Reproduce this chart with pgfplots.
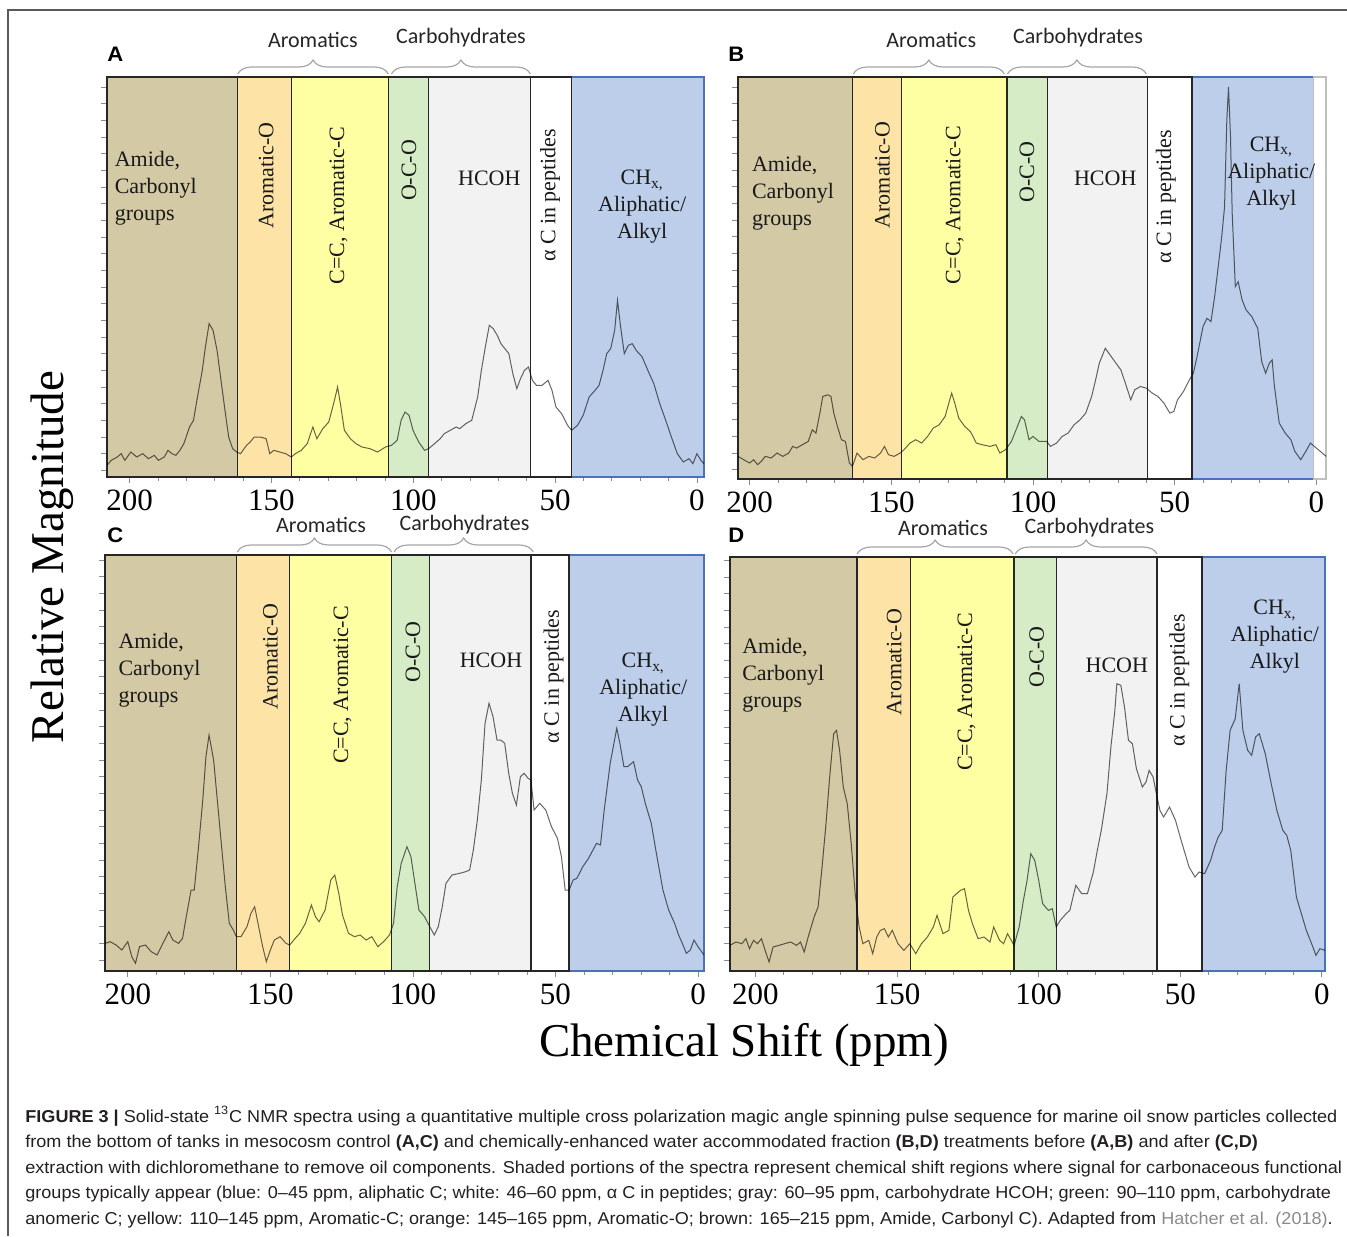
\documentclass[border=0pt]{standalone}
\usepackage{fontspec}
\setmainfont{Liberation Serif}
\newfontfamily\capfont[FakeStretch=1.05]{Liberation Sans}
\newfontfamily\calfont{Carlito}
\usepackage{pgfplots}
\pgfplotsset{compat=1.18}
\usetikzlibrary{decorations.pathreplacing}

\definecolor{cBrown}{HTML}{D3C9A5}
\definecolor{cOrange}{HTML}{FDE4A6}
\definecolor{cYellow}{HTML}{FEFEA2}
\definecolor{cGreen}{HTML}{D6ECC6}
\definecolor{cGray}{HTML}{F2F2F2}
\definecolor{cBlue}{HTML}{BDCEEA}
\definecolor{cBlueEdge}{HTML}{4A72B8}
\definecolor{capText}{HTML}{231F20}
\definecolor{linkGray}{HTML}{8A8A8A}

% one shaded chemical-shift band: fill, edge, x from, x to, y low, y high
\newcommand{\band}[6]{%
  \addplot[fill=#1, draw=#2, line width=0.7pt] coordinates {(#3,#5) (#4,#5) (#4,#6) (#3,#6)} --cycle;}

\pgfplotsset{
  nmr/.style={
    scale only axis, x dir=reverse, enlargelimits=false, clip=false,
    anchor=south west,
    axis line style={draw=black!30},
    xtick={0,50,100,150,200}, minor xtick={10,20,...,190},
    ytick distance=50, yticklabels={},
    xtick pos=left, ytick pos=left, tick align=outside,
    major tick length=3pt, minor tick length=2pt,
    tick style={draw=black!45, line width=0.4pt},
    xticklabel style={font=\fontsize{15.5}{16}\selectfont, text=black},
    /pgf/number format/assume math mode=true,
  },
  spec/.style={no marks, line width=0.5pt, draw=black, draw opacity=0.6},
}

\begin{document}
\begin{tikzpicture}[x=0.5pt, y=-0.5pt,
  lab/.style={font=\fontsize{11}{13.5}\selectfont, inner sep=0pt, text=black!90},
  grp/.style={font=\calfont\fontsize{11}{13}\selectfont, inner sep=0pt, text=black!85},
  brc/.style={decorate, decoration={brace, amplitude=7pt, raise=1.5pt}, draw=black!35, line width=0.6pt},
  pl/.style={anchor=base west, inner sep=0pt, font=\capfont\bfseries\fontsize{10.5}{12}\selectfont}]
\path[use as bounding box] (0,0) rectangle (1347,1236);
\draw[black!65, line width=0.7pt] (8,1236) -- (8,10) -- (1347,10);

% ---------------- A ----------------
\begin{axis}[nmr, at={(53.5pt,-238.5pt)}, width=298.5pt, height=200pt,
  xmin=-2.5, xmax=208, ymin=30, ymax=1230]
\band{cBrown}{black!85}{208}{161.9}{30}{1230}
\band{cOrange}{black!85}{161.9}{143.0}{30}{1230}
\band{cYellow}{black!85}{143.0}{108.8}{30}{1230}
\band{cGreen}{black!85}{108.8}{94.6}{30}{1230}
\band{cGray}{black!85}{94.6}{58.7}{30}{1230}
\band{cBlue}{cBlueEdge}{44.2}{-2.5}{30}{1230}
\band{white}{black!85}{58.7}{44.2}{30}{1230}
\addplot[spec] coordinates {
(208.0,65) (206.5,80) (204.4,90) (203.0,100) (201.7,80) (199.6,105) (197.5,90) (195.4,100)
(193.4,85) (191.3,95) (189.9,80) (187.8,90) (186.5,110) (185.1,100) (183.7,95) (182.3,110)
(180.9,130) (178.9,180) (177.5,200) (176.1,270) (174.4,350) (173.3,420) (172.0,490) (170.6,470)
(169.2,410) (167.8,320) (166.4,230) (165.1,150) (163.7,115) (162.3,105) (160.9,100) (158.8,125)
(157.5,135) (156.1,150) (154.0,150) (151.9,145) (150.6,100) (149.2,110) (147.1,105) (145.0,100)
(143.0,90) (141.6,100) (139.5,110) (137.4,130) (135.4,180) (134.0,145) (131.9,175) (129.8,195)
(127.8,260) (126.7,300) (125.7,250) (124.3,170) (122.2,145) (120.2,130) (118.1,120) (115.3,115)
(112.6,105) (109.8,120) (107.7,125) (105.7,140) (104.3,200) (102.9,225) (101.5,215) (100.1,170)
(98.1,135) (96.0,110) (94.6,115) (92.5,130) (90.5,145) (89.1,160) (87.0,170) (84.9,180)
(83.6,175) (81.5,190) (79.4,200) (77.3,270) (76.0,350) (74.6,420) (73.2,485) (71.8,475)
(70.4,455) (69.1,430) (67.7,415) (66.3,400) (64.9,340) (63.5,295) (62.2,325) (60.8,350)
(59.4,360) (58.0,320) (56.6,305) (54.6,305) (52.5,320) (51.1,290) (49.7,240) (47.7,220)
(45.6,185) (44.2,170) (42.1,185) (40.1,215) (38.0,270) (35.9,290) (34.5,305) (33.1,350)
(31.8,400) (30.4,415) (29.0,470) (28.0,560) (26.9,480) (25.6,400) (24.2,425) (22.8,430)
(21.4,410) (19.3,390) (17.3,350) (15.2,310) (13.1,250) (11.0,200) (9.0,150) (6.9,100)
(4.8,75) (2.8,85) (1.4,70) (0.0,100) (-1.4,80) (-2.5,70)};
\node[lab, anchor=west, align=left] at (axis cs:205.4,895) {Amide,\\Carbonyl\\groups};
\node[lab, rotate=90] at (axis cs:151.9,935) {Aromatic-O};
\node[lab, rotate=90] at (axis cs:126.4,845) {C=C, Aromatic-C};
\node[lab, rotate=90] at (axis cs:101.5,950) {O-C-O};
\node[lab] at (axis cs:73.2,925) {HCOH};
\node[lab, rotate=90] at (axis cs:51.8,875) {α C in peptides};
\node[lab, align=center] at (axis cs:19.3,840) {CH\textsubscript{x,}\\Aliphatic/\\Alkyl};
\draw[brc] (axis cs:161.9,1230) -- (axis cs:108.8,1230);
\draw[brc] (axis cs:107.7,1230) -- (axis cs:58.7,1230);
\node[grp, yshift=18.5pt] at (axis cs:135.4,1230) {Aromatics};
\node[grp, yshift=19.5pt] at (axis cs:83.2,1230) {Carbohydrates};
\end{axis}

% ---------------- B ----------------
\begin{axis}[nmr, at={(369pt,-239.5pt)}, width=294pt, height=201pt,
  xmin=-3.4, xmax=204.1, ymin=22, ymax=1230]
\band{cBrown}{black!85}{204.1}{163.7}{22}{1230}
\band{cOrange}{black!85}{163.7}{146.5}{22}{1230}
\band{cYellow}{black!85}{146.5}{109.2}{22}{1230}
\band{cGreen}{black!85}{109.2}{94.9}{22}{1230}
\band{cGray}{black!85}{94.9}{59.6}{22}{1230}
\band{cBlue}{cBlueEdge}{43.9}{1.0}{22}{1230}
\band{white}{black!85}{59.6}{43.9}{22}{1230}
\band{white}{black!25}{1.0}{-3.4}{22}{1230}
\addplot[spec] coordinates {
(204.1,90) (202.1,80) (200.0,70) (198.6,80) (197.2,65) (195.9,75) (194.5,90) (192.4,85)
(190.3,100) (188.3,90) (186.2,100) (184.8,120) (183.4,115) (181.4,125) (179.3,135) (177.9,170)
(176.6,160) (175.2,220) (174.2,270) (172.4,275) (171.3,270) (170.3,220) (169.0,180) (167.6,140)
(166.2,135) (164.8,70) (163.7,60) (162.1,100) (160.0,80) (157.9,90) (155.9,85) (153.8,100)
(152.4,120) (151.0,95) (149.0,90) (146.9,100) (145.5,110) (143.4,130) (141.4,140) (139.3,130)
(137.2,150) (135.2,175) (133.1,185) (131.0,210) (129.7,250) (128.7,280) (127.6,250) (126.2,205)
(124.1,180) (122.1,165) (120.0,130) (117.9,125) (115.2,120) (113.1,125) (111.7,100) (109.7,110)
(107.6,135) (105.5,180) (104.1,210) (103.0,200) (101.4,140) (100.0,150) (97.9,135) (95.2,135)
(93.8,120) (91.7,130) (89.7,150) (87.6,160) (85.5,185) (83.4,200) (81.4,220) (79.3,270)
(77.9,320) (76.6,370) (74.5,415) (72.4,390) (70.3,365) (69.0,350) (67.6,315) (65.5,260)
(64.1,290) (62.1,300) (60.0,295) (57.9,280) (55.9,270) (53.8,250) (51.7,220) (50.3,225)
(49.0,260) (46.9,285) (44.8,320) (43.4,340) (42.1,390) (40.0,480) (38.6,505) (37.2,495)
(35.9,570) (34.5,670) (33.4,750) (32.4,840) (31.6,1100) (31.0,1200) (30.3,1050) (29.7,820)
(28.6,600) (27.6,615) (26.2,560) (24.8,530) (22.8,510) (20.7,475) (19.3,375) (17.9,340)
(16.6,370) (15.6,380) (14.8,300) (13.1,190) (11.0,160) (9.0,140) (7.6,105) (5.5,80)
(3.4,110) (2.1,130) (0.0,115) (-2.1,100) (-3.4,90)};
\node[lab, anchor=west, align=left] at (axis cs:199.3,880) {Amide,\\Carbonyl\\groups};
\node[lab, rotate=90] at (axis cs:153.1,935) {Aromatic-O};
\node[lab, rotate=90] at (axis cs:127.6,845) {C=C, Aromatic-C};
\node[lab, rotate=90] at (axis cs:102.1,945) {O-C-O};
\node[lab] at (axis cs:74.5,925) {HCOH};
\node[lab, rotate=90] at (axis cs:53.1,870) {α C in peptides};
\node[lab, align=center] at (axis cs:15.9,940) {CH\textsubscript{x,}\\Aliphatic/\\Alkyl};
\draw[brc] (axis cs:163.4,1230) -- (axis cs:110.1,1230);
\draw[brc] (axis cs:109.0,1230) -- (axis cs:60.0,1230);
\node[grp, yshift=18.5pt] at (axis cs:135.9,1230) {Aromatics};
\node[grp, yshift=19.5pt] at (axis cs:84.1,1230) {Carbohydrates};
\end{axis}

% ---------------- C ----------------
\begin{axis}[nmr, at={(52.5pt,-485.5pt)}, width=299.5pt, height=208pt,
  xmin=-2.1, xmax=208, ymin=17, ymax=1265]
\band{cBrown}{black!85}{208}{161.9}{17}{1265}
\band{cOrange}{black!85}{161.9}{143.2}{17}{1265}
\band{cYellow}{black!85}{143.2}{107.5}{17}{1265}
\band{cGreen}{black!85}{107.5}{94.1}{17}{1265}
\band{cGray}{black!85}{94.1}{58.6}{17}{1265}
\band{cBlue}{cBlueEdge}{45.2}{-2.1}{17}{1265}
\band{white}{black!85}{58.6}{45.2}{17}{1265}
\addplot[spec] coordinates {
(207.9,100) (206.2,105) (204.1,95) (202.1,80) (200.0,105) (198.6,60) (197.3,40) (195.9,90)
(193.8,95) (191.8,75) (189.7,65) (187.7,100) (185.6,135) (184.2,110) (182.2,100) (180.8,115)
(179.5,180) (177.8,260) (176.7,260) (175.3,380) (173.7,530) (172.6,660) (171.5,725) (169.9,650)
(168.5,520) (167.1,390) (165.8,270) (164.4,160) (163.0,140) (161.9,120) (160.3,120) (158.2,150)
(156.8,190) (155.5,210) (154.1,150) (152.7,90) (151.4,45) (150.0,80) (148.6,110) (146.6,120)
(144.5,100) (143.2,95) (141.8,110) (139.7,130) (137.7,160) (135.6,215) (134.2,180) (132.9,165)
(130.8,200) (128.8,290) (127.4,305) (126.0,250) (124.7,185) (122.6,130) (120.5,120) (118.5,125)
(116.4,110) (114.4,120) (112.3,90) (110.3,105) (108.2,125) (106.8,160) (105.5,270) (104.1,340)
(102.1,390) (100.7,360) (99.3,280) (97.9,200) (95.9,180) (94.1,150) (92.5,125) (91.1,150)
(89.7,210) (88.4,280) (86.3,305) (83.6,310) (81.5,315) (80.1,320) (78.8,380) (77.4,470)
(76.0,590) (74.7,760) (73.3,820) (71.9,780) (70.5,710) (69.2,710) (67.8,700) (66.4,610)
(65.1,550) (63.7,515) (62.3,600) (61.0,610) (59.6,595) (58.6,590) (57.5,500) (55.5,520)
(53.4,500) (51.4,450) (49.3,415) (47.9,360) (46.6,260) (45.2,260) (43.8,290) (42.5,295)
(40.4,330) (38.4,355) (35.6,400) (34.2,395) (32.9,500) (30.8,640) (29.5,700) (28.5,745)
(27.4,700) (26.0,630) (24.7,630) (22.6,645) (21.2,590) (19.9,570) (18.5,520) (16.4,460)
(14.4,360) (12.3,260) (10.3,200) (8.2,160) (6.8,125) (5.5,100) (4.1,70) (2.7,80)
(1.4,110) (0.0,90) (-2.1,65)};
\node[lab, anchor=west, align=left] at (axis cs:203.4,920) {Amide,\\Carbonyl\\groups};
\node[lab, rotate=90] at (axis cs:150.0,960) {Aromatic-O};
\node[lab, rotate=90] at (axis cs:124.7,875) {C=C, Aromatic-C};
\node[lab, rotate=90] at (axis cs:100.0,975) {O-C-O};
\node[lab] at (axis cs:72.6,950) {HCOH};
\node[lab, rotate=90] at (axis cs:50.7,900) {α C in peptides};
\node[lab, align=center] at (axis cs:19.2,860) {CH\textsubscript{x,}\\Aliphatic/\\Alkyl};
\draw[brc] (axis cs:161.6,1265) -- (axis cs:107.5,1265);
\draw[brc] (axis cs:106.6,1265) -- (axis cs:57.8,1265);
\node[grp, yshift=15pt] at (axis cs:132.2,1265) {Aromatics};
\node[grp, yshift=15pt] at (axis cs:81.9,1265) {Carbohydrates};
\end{axis}

% ---------------- D ----------------
\begin{axis}[nmr, at={(365pt,-485.5pt)}, width=297.5pt, height=207pt,
  xmin=-1.1, xmax=209, ymin=18, ymax=1260]
\band{cBrown}{black!85}{209}{164.1}{18}{1260}
\band{cOrange}{black!85}{164.1}{145.2}{18}{1260}
\band{cYellow}{black!85}{145.2}{108.7}{18}{1260}
\band{cGreen}{black!85}{108.7}{93.8}{18}{1260}
\band{cGray}{black!85}{93.8}{58.2}{18}{1260}
\band{cBlue}{cBlueEdge}{42.3}{-1.1}{18}{1260}
\band{white}{black!85}{58.2}{42.3}{18}{1260}
\addplot[spec] coordinates {
(209.0,95) (206.9,105) (204.8,100) (203.4,115) (202.1,85) (200.7,110) (199.3,100) (197.9,115)
(196.6,80) (195.2,45) (193.8,90) (191.7,95) (189.7,100) (187.6,105) (185.5,95) (184.1,105)
(182.8,75) (181.4,120) (179.3,180) (177.9,210) (176.6,320) (175.2,450) (173.8,600) (172.4,730)
(171.4,740) (170.3,680) (169.0,570) (167.6,520) (166.2,400) (164.8,250) (163.4,150) (162.1,100)
(160.0,110) (158.6,70) (157.2,120) (155.9,140) (154.5,145) (153.1,120) (151.7,140) (149.7,100)
(147.6,80) (145.5,100) (143.4,70) (141.4,100) (139.3,120) (137.2,150) (135.9,185) (133.8,130)
(131.7,140) (130.3,240) (129.0,250) (127.6,260) (126.2,265) (124.8,200) (123.4,160) (121.4,115)
(119.3,120) (117.2,105) (115.9,150) (113.8,110) (112.4,100) (111.0,130) (108.7,95) (106.9,150)
(105.5,225) (104.1,290) (102.8,370) (101.4,350) (100.0,290) (98.6,220) (96.6,200) (95.2,205)
(93.8,150) (92.4,170) (90.3,190) (89.0,200) (86.9,275) (84.8,250) (82.8,250) (80.7,315)
(79.3,380) (77.9,440) (75.9,550) (74.5,690) (73.1,800) (72.4,880) (71.0,875) (69.7,810)
(68.3,710) (66.9,700) (65.5,625) (63.4,570) (62.1,585) (61.0,620) (59.6,600) (58.2,540)
(57.2,500) (55.9,480) (53.8,510) (51.7,470) (49.7,410) (48.3,370) (46.9,330) (44.8,300)
(43.4,315) (41.4,310) (39.3,350) (37.9,390) (36.6,420) (35.2,440) (33.8,620) (32.4,740)
(30.6,775) (29.2,880) (27.9,740) (26.2,680) (24.8,665) (23.4,720) (22.1,730) (20.0,670)
(17.9,580) (15.9,500) (13.8,440) (12.4,425) (11.0,380) (9.0,240) (6.9,180) (5.5,140)
(3.4,95) (2.1,65) (0.7,85) (-1.1,80)};
\node[lab, anchor=west, align=left] at (axis cs:204.8,905) {Amide,\\Carbonyl\\groups};
\node[lab, rotate=90] at (axis cs:151.0,945) {Aromatic-O};
\node[lab, rotate=90] at (axis cs:125.5,855) {C=C, Aromatic-C};
\node[lab, rotate=90] at (axis cs:100.7,960) {O-C-O};
\node[lab] at (axis cs:72.4,935) {HCOH};
\node[lab, rotate=90] at (axis cs:50.3,890) {α C in peptides};
\node[lab, align=center] at (axis cs:16.6,1020) {CH\textsubscript{x,}\\Aliphatic/\\Alkyl};
\draw[brc] (axis cs:164.1,1260) -- (axis cs:109.0,1260);
\draw[brc] (axis cs:108.3,1260) -- (axis cs:58.2,1260);
\node[grp, yshift=14.5pt] at (axis cs:133.8,1260) {Aromatics};
\node[grp, yshift=14.5pt] at (axis cs:82.1,1260) {Carbohydrates};
\end{axis}

% panel letters and shared axis titles
\node[pl] at (107,62) {A};
\node[pl] at (728,62) {B};
\node[pl] at (107,542) {C};
\node[pl] at (728,542) {D};
\node[rotate=90, font=\fontsize{23.5}{26}\selectfont] at (52,557) {Relative Magnitude};
\node[font=\fontsize{23.5}{26}\selectfont] at (744,1045) {Chemical Shift (ppm)};

% caption
\begin{scope}[every node/.style={anchor=base west, inner sep=0pt, text=capText,
    font=\capfont\fontsize{8.6}{10}\selectfont}]
\node at (25,1122) {\textbf{FIGURE 3 |} Solid-state \textsuperscript{13}C NMR spectra using a quantitative multiple cross polarization magic angle spinning pulse sequence for marine oil snow particles collected};
\node at (25,1147.5) {from the bottom of tanks in mesocosm control \textbf{(A,C)} and chemically-enhanced water accommodated fraction \textbf{(B,D)} treatments before \textbf{(A,B)} and after \textbf{(C,D)}};
\node at (25,1173) {extraction with dichloromethane to remove oil components. Shaded portions of the spectra represent chemical shift regions where signal for carbonaceous functional};
\node at (25,1198.5) {groups typically appear (blue: 0–45 ppm, aliphatic C; white: 46–60 ppm, α C in peptides; gray: 60–95 ppm, carbohydrate HCOH; green: 90–110 ppm, carbohydrate};
\node at (25,1224) {anomeric C; yellow: 110–145 ppm, Aromatic-C; orange: 145–165 ppm, Aromatic-O; brown: 165–215 ppm, Amide, Carbonyl C). Adapted from \textcolor{linkGray}{Hatcher et al. (2018)}.};
\end{scope}
\end{tikzpicture}
\end{document}
